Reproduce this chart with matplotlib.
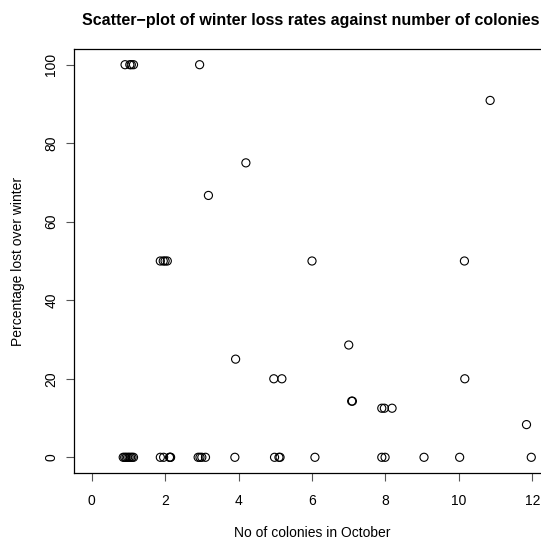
import matplotlib
matplotlib.use("Agg")
import matplotlib.pyplot as plt
import numpy as np

plt.rcParams['font.family'] = ['Liberation Sans', 'DejaVu Sans']

# Number of colonies in October (jittered as in the original)
colonies = [
    # 0% loss
    0.86, 0.90, 0.94, 0.98, 1.02, 1.06, 1.10, 1.14,
    1.87, 1.96, 2.12, 2.14, 2.15,
    2.90, 2.95, 3.00, 3.10,
    3.90, 4.98, 5.10, 5.13, 6.08, 7.90, 7.99, 9.05, 10.02, 11.97,
    # non-zero loss
    0.91, 1.04, 1.08, 1.14, 2.94,
    4.20, 3.18,
    1.87, 1.95, 2.00, 2.06, 6.00, 10.15,
    3.92, 4.96, 5.18, 10.16,
    7.00, 7.08, 7.10,
    7.90, 7.97, 8.18,
    11.84, 10.85,
]
loss = [
    0, 0, 0, 0, 0, 0, 0, 0,
    0, 0, 0, 0, 0,
    0, 0, 0, 0,
    0, 0, 0, 0, 0, 0, 0, 0, 0, 0,
    100, 100, 100, 100, 100,
    75, 66.7,
    50, 50, 50, 50, 50, 50,
    25, 20, 20, 20,
    28.6, 14.3, 14.3,
    12.5, 12.5, 12.5,
    8.33, 90.9,
]

xticks = [0, 2, 4, 6, 8, 10, 12]
yticks = [0, 20, 40, 60, 80, 100]

W, H = 541, 540
fig = plt.figure(figsize=(W / 100, H / 100), dpi=100)
left, right, top, bottom = 74, 550, 49, 473
ax = fig.add_axes([left / W, 1 - bottom / H, (right - left) / W, (bottom - top) / H])

ax.scatter(colonies, loss, s=34, facecolors='none', edgecolors='black', linewidths=0.8)

ax.set_xlim(-0.48, 12.48)
ax.set_ylim(-4, 104)
ax.set_xticks(xticks)
ax.set_yticks(yticks)
ax.set_xticklabels([str(t) for t in xticks], fontsize=10)
ax.set_yticklabels([str(t) for t in yticks], fontsize=10, rotation=90, va='center')
ax.tick_params(direction='out', length=5.8, width=0.8, color='#555555')
ax.tick_params(axis='x', pad=9)
ax.tick_params(axis='y', pad=5.5)
for sp in ax.spines.values():
    sp.set_linewidth(0.9)
    sp.set_color('black')

ax.set_xlabel('No of colonies in October', fontsize=10, labelpad=13)
ax.set_ylabel('Percentage lost over winter', fontsize=10, labelpad=14)
fig.text(310.5 / W, 1 - 20 / H, 'Scatter\u2212plot of winter loss rates against number of colonies',
         ha='center', va='center', fontsize=11.5, fontweight='bold')

fig.savefig('out.png', dpi=100)
